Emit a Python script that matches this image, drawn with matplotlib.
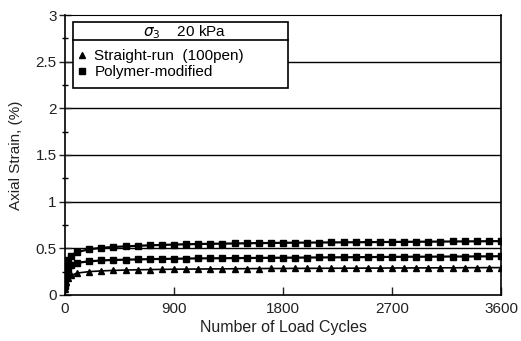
import matplotlib
matplotlib.use("Agg")
import matplotlib.pyplot as plt
from matplotlib.patches import Rectangle
from matplotlib.lines import Line2D

plt.rcParams['font.family'] = ['Liberation Sans', 'DejaVu Sans']

cycles = [1, 10, 25, 50, 100, 200, 300, 400, 500, 600, 700, 800, 900, 1000,
          1100, 1200, 1300, 1400, 1500, 1600, 1700, 1800, 1900, 2000, 2100,
          2200, 2300, 2400, 2500, 2600, 2700, 2800, 2900, 3000, 3100, 3200,
          3300, 3400, 3500, 3600]

polymer_high = [0.15, 0.30, 0.37, 0.42, 0.46, 0.49, 0.505, 0.515, 0.52, 0.527,
                0.532, 0.536, 0.54, 0.543, 0.546, 0.548, 0.550, 0.552, 0.554,
                0.556, 0.557, 0.559, 0.560, 0.561, 0.562, 0.563, 0.564, 0.565,
                0.566, 0.567, 0.568, 0.569, 0.570, 0.571, 0.572, 0.573, 0.574,
                0.575, 0.576, 0.577]

polymer_mid = [0.10, 0.22, 0.28, 0.32, 0.345, 0.36, 0.37, 0.375, 0.378, 0.381,
               0.384, 0.386, 0.388, 0.390, 0.392, 0.393, 0.394, 0.395, 0.396,
               0.397, 0.398, 0.399, 0.400, 0.401, 0.402, 0.403, 0.404, 0.405,
               0.406, 0.407, 0.408, 0.409, 0.410, 0.410, 0.411, 0.412, 0.412,
               0.413, 0.414, 0.415]

straight_run = [0.06, 0.14, 0.18, 0.21, 0.235, 0.25, 0.258, 0.263, 0.267, 0.270,
                0.272, 0.274, 0.276, 0.277, 0.278, 0.279, 0.280, 0.281, 0.282,
                0.283, 0.284, 0.284, 0.285, 0.285, 0.286, 0.286, 0.287, 0.287,
                0.288, 0.288, 0.289, 0.289, 0.290, 0.290, 0.291, 0.291, 0.292,
                0.292, 0.293, 0.293]

x_ticks = [0, 900, 1800, 2700, 3600]
y_ticks = [0, 0.5, 1, 1.5, 2, 2.5, 3]
y_ticklabels = ["0", "0.5", "1", "1.5", "2", "2.5", "3"]

fig = plt.figure(figsize=(5.21, 3.41), dpi=100)
ax = fig.add_axes([0.1248, 0.135, 0.8368, 0.821])

for yv in y_ticks[1:-1]:
    ax.axhline(yv, color='black', lw=1.0, zorder=1)

ax.plot(cycles, polymer_high, color='black', lw=1.6, marker='s', ms=4.5,
        zorder=3)
ax.plot(cycles, polymer_mid, color='black', lw=1.6, marker='s', ms=4.5,
        zorder=3)
ax.plot(cycles, straight_run, color='black', lw=1.2, marker='^', ms=4.5,
        zorder=3)

ax.set_xlim(0, 3600)
ax.set_ylim(0, 3)
ax.set_xticks(x_ticks)
ax.set_yticks(y_ticks)
ax.set_yticklabels(y_ticklabels)
ax.set_yticks([0.25, 0.75, 1.25, 1.75, 2.25, 2.75], minor=True)
ax.tick_params(axis='y', which='major', direction='inout', length=8, width=1,
               labelsize=11, colors='#222222', pad=2)
ax.tick_params(axis='y', which='minor', direction='inout', length=5, width=1)
ax.tick_params(axis='x', which='major', direction='in', length=6, width=1,
               labelsize=11, colors='#222222', pad=5)
for s in ax.spines.values():
    s.set_linewidth(1.2)
ax.spines['top'].set_linewidth(0.8)

ax.set_xlabel("Number of Load Cycles", fontsize=11.5, color='#222222',
              labelpad=3)
ax.set_ylabel("Axial Strain, (%)", fontsize=11, color='#222222', labelpad=9)

# legend box
x0, x1 = 0.018, 0.511
y0, y1 = 0.739, 0.975
ax.add_patch(Rectangle((x0, y0), x1 - x0, y1 - y0, transform=ax.transAxes,
                       fill=True, facecolor='white', edgecolor='black',
                       lw=1.2, zorder=5))
ax.add_line(Line2D([x0, x1], [0.911, 0.911], transform=ax.transAxes,
                   color='black', lw=1.2, zorder=6))
ax.text((x0 + x1) / 2 + 0.01, 0.940, r"$\sigma_3$    20 kPa",
        transform=ax.transAxes, ha='center', va='center', fontsize=11,
        zorder=6)
handles = [Line2D([], [], color='black', marker='^', ls='none', ms=5),
           Line2D([], [], color='black', marker='s', ls='none', ms=5)]
leg = ax.legend(handles, ["Straight-run  (100pen)", "Polymer-modified"],
                loc='upper left', bbox_to_anchor=(x0, 0.895), frameon=False,
                fontsize=11, handlelength=0.6, handletextpad=0.5,
                borderpad=0.3, labelspacing=0.15, borderaxespad=0)
leg.set_zorder(7)

fig.savefig("out.png", dpi=100)
